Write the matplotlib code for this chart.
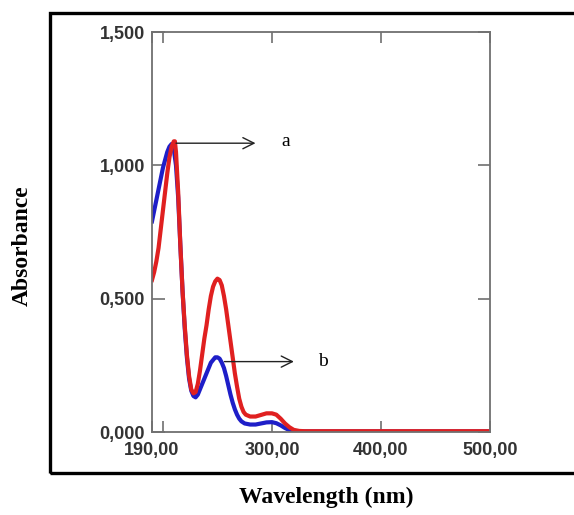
import matplotlib
matplotlib.use("Agg")
from matplotlib import pyplot as plt
from matplotlib.patches import Rectangle
from matplotlib.ticker import FixedLocator

# wavelength (nm) and absorbance
wl_red = [190, 192, 194, 196, 198, 200, 202, 204, 206, 208, 210, 211, 212, 214, 216,
          218, 220, 222, 224, 226, 228, 230, 232, 234, 236, 238, 240, 242, 244, 246,
          248, 250, 252, 254, 256, 258, 260, 262, 264, 266, 268, 270, 272, 274, 276,
          280, 285, 290, 295, 300, 304, 308, 312, 316, 320, 325, 330, 360, 400, 440, 500]
abs_red = [0.57, 0.60, 0.64, 0.69, 0.76, 0.83, 0.90, 0.97, 1.03, 1.07, 1.09, 1.09, 1.05, 0.90, 0.70,
           0.53, 0.40, 0.29, 0.21, 0.16, 0.145, 0.15, 0.18, 0.23, 0.29, 0.35, 0.40, 0.46, 0.51, 0.545,
           0.565, 0.575, 0.57, 0.55, 0.51, 0.46, 0.40, 0.34, 0.28, 0.22, 0.17, 0.125, 0.095, 0.075, 0.065,
           0.058, 0.058, 0.064, 0.07, 0.07, 0.065, 0.05, 0.032, 0.018, 0.008, 0.004, 0.003, 0.003, 0.003, 0.003, 0.003]

wl_blue = [190, 192, 194, 196, 198, 200, 202, 204, 206, 208, 209, 210, 212, 214, 216,
           218, 220, 222, 224, 226, 228, 230, 232, 234, 236, 238, 240, 242, 244, 246,
           248, 250, 252, 254, 256, 258, 260, 262, 264, 266, 268, 270, 272, 275, 280,
           285, 290, 295, 300, 304, 308, 312, 316, 320, 330, 400, 500]
abs_blue = [0.79, 0.83, 0.87, 0.91, 0.95, 0.99, 1.02, 1.05, 1.07, 1.08, 1.075, 1.06, 1.0, 0.88, 0.70,
            0.53, 0.39, 0.28, 0.20, 0.155, 0.135, 0.13, 0.14, 0.16, 0.18, 0.20, 0.22, 0.24, 0.26, 0.27,
            0.28, 0.28, 0.275, 0.26, 0.24, 0.21, 0.175, 0.14, 0.11, 0.085, 0.065, 0.05, 0.04, 0.032, 0.028,
            0.028, 0.032, 0.036, 0.037, 0.033, 0.025, 0.015, 0.007, 0.003, 0.002, 0.002, 0.002]

x_ticks = [190, 300, 400, 500]
x_labels = ["190,00", "300,00", "400,00", "500,00"]
y_ticks = [0, 0.5, 1.0, 1.5]
y_labels = ["0,000", "0,500", "1,000", "1,500"]

W, H = 574, 515
fig = plt.figure(figsize=(W / 100, H / 100), dpi=100)
ax = fig.add_axes([152 / W, 1 - 432 / H, 338 / W, 400 / H])

ax.plot(wl_blue, abs_blue, color="#1e1ec8", lw=3.0, solid_joinstyle="round")
ax.plot(wl_red, abs_red, color="#e02020", lw=3.0, solid_joinstyle="round")

ax.set_xlim(190, 500)
ax.set_ylim(0, 1.5)

gray = "#707070"
for s in ax.spines.values():
    s.set_color(gray)
    s.set_linewidth(1.3)

ax.set_xticks(x_ticks)
ax.set_xticklabels(x_labels)
ax.xaxis.set_minor_locator(FixedLocator([200]))
ax.set_yticks(y_ticks)
ax.set_yticklabels(y_labels)

for lab in ax.get_xticklabels() + ax.get_yticklabels():
    lab.set_fontfamily("Liberation Sans")
    lab.set_fontweight("bold")
    lab.set_fontsize(13)
    lab.set_color("#333333")

ax.tick_params(axis="x", which="both", direction="in", top=True, length=8,
               width=1.2, color=gray, pad=7)
ax.tick_params(axis="y", which="both", direction="in", right=True, length=9,
               width=1.2, color=gray, pad=5)

# arrows and labels
ax.annotate("", xy=(287.5, 1.083), xytext=(209.5, 1.083),
            arrowprops=dict(arrowstyle="->", color="#222222", lw=1.0, mutation_scale=20))
ax.text(312.6, 1.09, "a", fontsize=14, family="Liberation Serif", ha="center", va="center")
ax.annotate("", xy=(322.7, 0.264), xytext=(253.9, 0.264),
            arrowprops=dict(arrowstyle="->", color="#222222", lw=1.0, mutation_scale=20))
ax.text(347.1, 0.264, "b", fontsize=14, family="Liberation Serif", ha="center", va="center")

# outer frame
fig.patches.append(Rectangle((50 / W, 1 - 473 / H), 1.2, (473 - 13) / H,
                             transform=fig.transFigure, fill=False,
                             edgecolor="black", lw=2.4, clip_on=False))

fig.text(22 / W, 1 - 246 / H, "Absorbance", rotation=90, ha="center", va="center",
         fontsize=17, fontweight="bold", family="Liberation Serif")
fig.text(326 / W, 1 - 497 / H, "Wavelength (nm)", ha="center", va="center",
         fontsize=17, fontweight="bold", family="Liberation Serif")

fig.savefig("out.png", dpi=100)
